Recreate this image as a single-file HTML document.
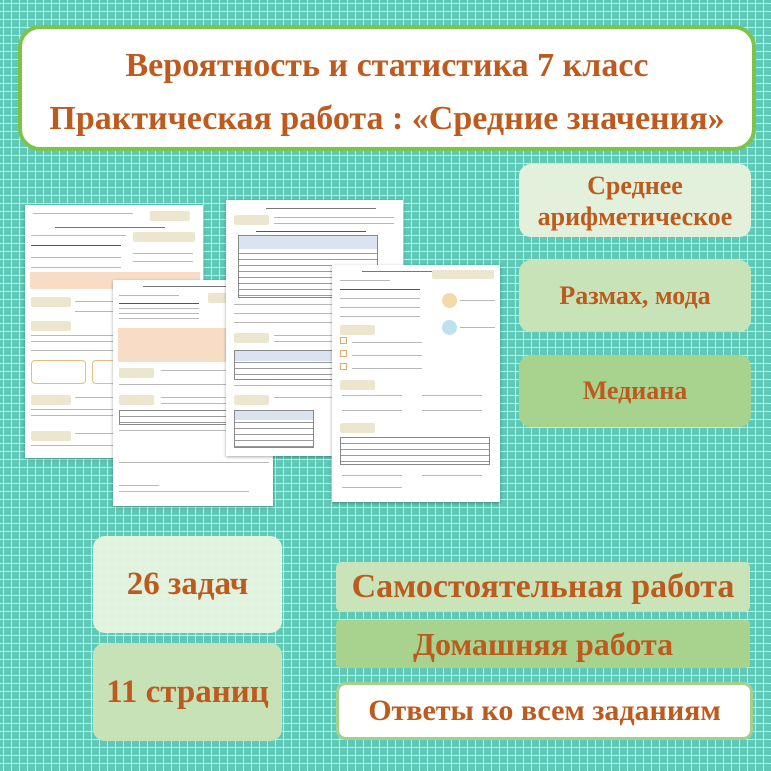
<!DOCTYPE html>
<html><head><meta charset="utf-8"><style>
*{margin:0;padding:0;box-sizing:border-box}
body{width:771px;height:771px;overflow:hidden;position:relative;
background-color:#5fc8b6;
background-image:linear-gradient(rgba(230,250,245,.75) 1px,transparent 1px),linear-gradient(90deg,rgba(230,250,245,.75) 1px,transparent 1px);
background-size:8px 8px;background-position:3px 3px;
font-family:"Liberation Serif",serif;}
.box{position:absolute;display:flex;align-items:center;justify-content:center;text-align:center;color:#bd5a1e;font-weight:bold;border-radius:12px;white-space:nowrap}
.pg{position:absolute;background:#fff;box-shadow:0 1px 3px rgba(0,0,0,.35);overflow:hidden}
.l{position:absolute;height:1px;background:#b8b8b8}
.t{position:absolute;background:#ede6cf;border-radius:2px}
.r{position:absolute;background:#f8dcc5}
.tb{position:absolute;border:1px solid #888;background:
 repeating-linear-gradient(#fff 0 5px,#999 5px 6px),#fff}
.th{position:absolute;background:#dbe3f0}
</style></head><body>

<div class="box" style="left:18px;top:25px;width:738px;height:126px;background:#fff;border:4px solid #7cc34a;border-radius:22px;flex-direction:column;font-size:34px;line-height:53px;padding-top:8px">
<div>Вероятность и статистика 7 класс</div>
<div>Практическая работа : «Средние значения»</div>
</div>

<!-- pages -->
<div class="pg" style="left:25px;top:205px;width:178px;height:253px">
<div class="l" style="left:8px;top:8px;width:100px"></div>
<div class="t" style="left:125px;top:6px;width:40px;height:10px"></div>
<div class="l" style="left:30px;top:22px;width:110px;background:#777"></div>
<div class="l" style="left:6px;top:30px;width:95px"></div>
<div class="l" style="left:6px;top:40px;width:90px;background:#555"></div>
<div class="t" style="left:108px;top:27px;width:62px;height:10px"></div>
<div class="l" style="left:108px;top:48px;width:60px"></div>
<div class="l" style="left:108px;top:56px;width:60px"></div>
<div class="l" style="left:6px;top:52px;width:90px"></div>
<div class="l" style="left:6px;top:62px;width:90px"></div>
<div class="r" style="left:5px;top:67px;width:170px;height:17px"></div>
<div class="t" style="left:6px;top:92px;width:40px;height:10px"></div>
<div class="l" style="left:50px;top:96px;width:120px"></div>
<div class="l" style="left:50px;top:106px;width:100px"></div>
<div class="t" style="left:6px;top:116px;width:40px;height:10px"></div>
<div class="l" style="left:6px;top:130px;width:165px"></div>
<div class="l" style="left:6px;top:136px;width:165px"></div>
<div class="l" style="left:6px;top:145px;width:165px"></div>
<div style="position:absolute;left:6px;top:155px;width:55px;height:24px;border:1px solid #e0c080;border-radius:4px"></div>
<div style="position:absolute;left:67px;top:155px;width:55px;height:24px;border:1px solid #e0c080;border-radius:4px"></div>
<div class="t" style="left:6px;top:190px;width:40px;height:10px"></div>
<div class="l" style="left:50px;top:192px;width:120px"></div>
<div class="l" style="left:6px;top:204px;width:165px"></div>
<div class="l" style="left:6px;top:210px;width:165px"></div>
<div class="t" style="left:6px;top:226px;width:40px;height:10px"></div>
<div class="l" style="left:50px;top:228px;width:120px"></div>
<div class="l" style="left:6px;top:240px;width:120px"></div>
</div>

<div class="pg" style="left:113px;top:280px;width:160px;height:226px">
<div class="l" style="left:30px;top:6px;width:120px;background:#777"></div>
<div class="l" style="left:6px;top:15px;width:60px"></div>
<div class="l" style="left:6px;top:23px;width:80px;background:#555"></div>
<div class="l" style="left:6px;top:28px;width:80px"></div>
<div class="l" style="left:6px;top:33px;width:80px"></div>
<div class="l" style="left:6px;top:38px;width:80px"></div>
<div class="t" style="left:95px;top:13px;width:60px;height:10px"></div>
<div class="r" style="left:5px;top:48px;width:155px;height:34px"></div>
<div class="t" style="left:6px;top:88px;width:35px;height:10px"></div>
<div class="l" style="left:48px;top:90px;width:110px"></div>
<div class="l" style="left:6px;top:104px;width:150px"></div>
<div class="t" style="left:6px;top:115px;width:35px;height:10px"></div>
<div class="l" style="left:48px;top:117px;width:110px"></div>
<div class="l" style="left:48px;top:123px;width:110px"></div>
<div class="tb" style="left:6px;top:130px;width:150px;height:15px"></div>
<div class="l" style="left:6px;top:150px;width:150px"></div>
<div class="l" style="left:6px;top:182px;width:150px"></div>
<div class="l" style="left:6px;top:205px;width:40px"></div>
<div class="l" style="left:6px;top:211px;width:130px"></div>
</div>

<div class="pg" style="left:226px;top:200px;width:177px;height:256px">
<div class="l" style="left:40px;top:8px;width:110px;background:#777"></div>
<div class="t" style="left:8px;top:15px;width:35px;height:10px"></div>
<div class="l" style="left:48px;top:17px;width:120px"></div>
<div class="l" style="left:48px;top:23px;width:120px"></div>
<div class="l" style="left:30px;top:31px;width:110px;background:#555"></div>
<div class="tb" style="left:12px;top:35px;width:140px;height:63px"></div>
<div class="th" style="left:13px;top:36px;width:138px;height:13px"></div>
<div class="l" style="left:8px;top:104px;width:120px"></div>
<div class="l" style="left:8px;top:113px;width:120px"></div>
<div class="l" style="left:8px;top:122px;width:140px"></div>
<div class="t" style="left:8px;top:133px;width:35px;height:10px"></div>
<div class="l" style="left:48px;top:135px;width:120px"></div>
<div class="l" style="left:48px;top:141px;width:120px"></div>
<div class="tb" style="left:8px;top:150px;width:120px;height:30px"></div>
<div class="th" style="left:9px;top:151px;width:118px;height:10px"></div>
<div class="l" style="left:8px;top:185px;width:150px"></div>
<div class="t" style="left:8px;top:195px;width:35px;height:10px"></div>
<div class="l" style="left:48px;top:197px;width:120px"></div>
<div class="tb" style="left:8px;top:210px;width:80px;height:38px"></div>
<div class="th" style="left:9px;top:211px;width:78px;height:9px"></div>
</div>

<div class="pg" style="left:332px;top:265px;width:168px;height:237px">
<div class="l" style="left:30px;top:6px;width:120px;background:#777"></div>
<div class="l" style="left:8px;top:15px;width:50px"></div>
<div class="l" style="left:8px;top:24px;width:80px;background:#555"></div>
<div class="l" style="left:8px;top:33px;width:80px"></div>
<div class="l" style="left:8px;top:42px;width:80px"></div>
<div class="l" style="left:8px;top:51px;width:80px"></div>
<div class="t" style="left:100px;top:5px;width:62px;height:9px"></div>
<div style="position:absolute;left:110px;top:28px;width:15px;height:15px;border-radius:50%;background:#f3d9a8"></div>
<div style="position:absolute;left:110px;top:55px;width:15px;height:15px;border-radius:50%;background:#bfe0ef"></div>
<div class="l" style="left:128px;top:35px;width:35px"></div>
<div class="l" style="left:128px;top:62px;width:35px"></div>
<div class="t" style="left:8px;top:60px;width:35px;height:10px"></div>
<div style="position:absolute;left:8px;top:72px;width:7px;height:7px;border:1px solid #d9b070"></div>
<div style="position:absolute;left:8px;top:85px;width:7px;height:7px;border:1px solid #d9b070"></div>
<div style="position:absolute;left:8px;top:98px;width:7px;height:7px;border:1px solid #d9b070"></div>
<div class="l" style="left:20px;top:77px;width:70px"></div>
<div class="l" style="left:20px;top:90px;width:70px"></div>
<div class="l" style="left:20px;top:103px;width:70px"></div>
<div class="t" style="left:8px;top:115px;width:35px;height:10px"></div>
<div class="l" style="left:10px;top:130px;width:60px"></div>
<div class="l" style="left:90px;top:130px;width:60px"></div>
<div class="l" style="left:10px;top:145px;width:60px"></div>
<div class="l" style="left:90px;top:145px;width:60px"></div>
<div class="t" style="left:8px;top:158px;width:35px;height:10px"></div>
<div class="tb" style="left:8px;top:172px;width:150px;height:28px"></div>
<div class="l" style="left:10px;top:210px;width:60px"></div>
<div class="l" style="left:90px;top:210px;width:60px"></div>
<div class="l" style="left:10px;top:222px;width:60px"></div>
</div>

<!-- right boxes -->
<div class="box" style="left:519px;top:164px;width:232px;height:73px;background:#e3f1dc;font-size:26px;line-height:31px">Среднее<br>арифметическое</div>
<div class="box" style="left:519px;top:260px;width:232px;height:72px;background:#c8e3b8;font-size:26px">Размах, мода</div>
<div class="box" style="left:519px;top:355px;width:232px;height:72px;background:#a7d38e;font-size:26px">Медиана</div>

<div class="box" style="left:93px;top:536px;width:189px;height:97px;background:rgba(232,244,226,.95);font-size:33px">26 задач</div>
<div class="box" style="left:93px;top:643px;width:189px;height:98px;background:#c7e2b7;font-size:33px">11 страниц</div>

<div class="box" style="left:336px;top:562px;width:414px;height:50px;background:#c9e4b9;border-radius:6px;font-size:34px">Самостоятельная работа</div>
<div class="box" style="left:336px;top:620px;width:414px;height:48px;background:#a7d38e;border-radius:4px;font-size:32px">Домашняя работа</div>
<div class="box" style="left:336px;top:682px;width:417px;height:58px;background:#fff;border:3px solid #a3d18c;border-radius:10px;font-size:30px">Ответы ко всем заданиям</div>
</body></html>
